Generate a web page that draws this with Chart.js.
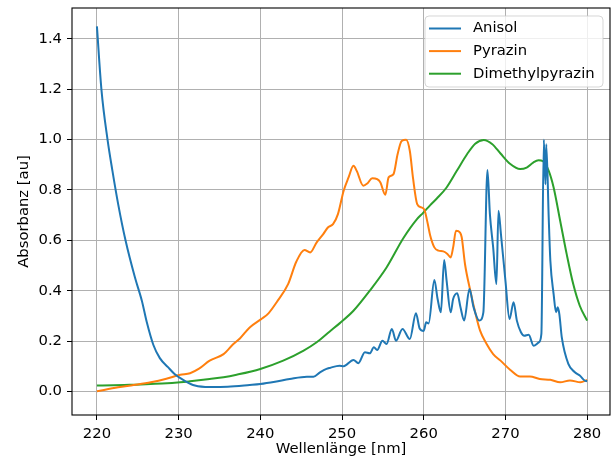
<!DOCTYPE html>
<html>
<head>
<meta charset="utf-8">
<script src="https://cdn.jsdelivr.net/npm/chart.js@4/dist/chart.umd.min.js"></script>
<style>
html,body{margin:0;padding:0;background:#fff;}
#wrap{position:relative;width:612px;height:461px;}
</style>
</head>
<body>
<div id="wrap"><canvas id="c" width="612" height="461"></canvas></div>
<script>
// ---- data ----
const seriesNames = ["Anisol", "Pyrazin", "Dimethylpyrazin"];
const seriesColors = ["#1f77b4", "#ff7f0e", "#2ca02c"];
const xTicks = [220, 230, 240, 250, 260, 270, 280];
const yTicks = [0.0, 0.2, 0.4, 0.6, 0.8, 1.0, 1.2, 1.4];

const anisolX = [220.0,220.55,221.3,221.9,222.6,223.5,224.65,225.5,226.1,226.9,227.7,228.7,229.5,230.75,232.0,233.8,236.0,238.7,240.0,241.8,243.6,245.7,246.5,247.3,248.1,248.5,249.7,250.2,251.4,252.0,252.8,253.4,253.9,254.3,254.95,255.45,256.1,256.6,257.4,258.3,259.05,259.5,260.0,260.3,260.6,261.3,261.7,262.1,262.5,262.8,263.3,263.6,264.1,264.5,264.95,265.6,266.1,266.8,267.3,267.8,268.1,268.5,268.9,269.15,269.45,270.0,270.5,271.0,271.4,271.9,272.3,272.85,273.45,274.1,274.4,274.7,274.9,275.0,275.3,275.5,275.9,276.2,276.4,276.6,276.9,277.7,278.5,279.1,279.7,280.0];
const anisolY = [1.45,1.20,1.00,0.876,0.744,0.60,0.453,0.36,0.275,0.185,0.132,0.096,0.069,0.042,0.023,0.017,0.018,0.025,0.029,0.038,0.049,0.058,0.058,0.075,0.089,0.093,0.102,0.10,0.125,0.112,0.155,0.151,0.175,0.164,0.201,0.188,0.248,0.201,0.248,0.208,0.31,0.25,0.24,0.274,0.27,0.442,0.367,0.314,0.522,0.44,0.314,0.367,0.39,0.334,0.281,0.407,0.334,0.281,0.314,0.879,0.704,0.572,0.426,0.717,0.625,0.44,0.287,0.354,0.281,0.235,0.221,0.225,0.181,0.195,0.228,1.0,0.823,0.982,0.69,0.519,0.386,0.314,0.334,0.307,0.214,0.109,0.076,0.063,0.043,0.04];

const pyrazinX = [220.0,222.6,224.5,226.6,228.5,230.2,231.4,232.5,233.8,235.5,236.7,237.5,238.7,240.1,241.0,242.0,243.4,244.4,245.4,246.1,246.9,247.7,248.3,248.9,249.5,250.2,250.8,251.4,251.8,252.6,253.1,253.7,254.3,254.7,255.3,255.7,256.3,256.8,257.3,257.85,258.3,258.7,259.2,259.7,260.1,260.5,260.8,261.3,261.8,262.4,262.9,263.3,263.6,263.95,264.45,264.65,265.05,265.7,266.3,266.9,267.7,268.5,269.4,270.6,271.8,273.0,274.2,275.5,276.7,277.9,279.2,280.0];
const pyrazinY = [0.0,0.016,0.025,0.036,0.05,0.066,0.072,0.09,0.122,0.148,0.188,0.21,0.254,0.287,0.31,0.354,0.426,0.515,0.562,0.552,0.592,0.625,0.652,0.664,0.704,0.797,0.85,0.896,0.876,0.817,0.826,0.847,0.843,0.83,0.781,0.85,0.863,0.942,0.995,1.0,0.955,0.845,0.744,0.731,0.72,0.665,0.618,0.572,0.559,0.556,0.546,0.532,0.572,0.638,0.631,0.612,0.506,0.40,0.314,0.241,0.188,0.148,0.122,0.085,0.059,0.059,0.049,0.046,0.036,0.043,0.036,0.045];

const dimethylX = [220.0,222.0,224.0,226.0,228.0,230.2,231.4,233.8,235.5,237.1,240.0,242.8,245.3,246.9,248.5,249.7,251.4,253.4,255.45,257.5,259.2,259.9,260.8,261.6,262.8,264.05,265.3,266.3,267.35,268.4,269.4,270.6,271.8,272.6,273.4,274.05,274.6,275.3,275.9,276.7,277.5,278.3,279.1,280.0];
const dimethylY = [0.023,0.024,0.026,0.028,0.031,0.036,0.04,0.049,0.056,0.066,0.089,0.122,0.162,0.195,0.238,0.27,0.32,0.40,0.492,0.608,0.685,0.708,0.74,0.766,0.81,0.876,0.942,0.984,0.999,0.982,0.945,0.903,0.883,0.889,0.909,0.918,0.914,0.876,0.81,0.678,0.545,0.426,0.34,0.281];

const xs = [anisolX, pyrazinX, dimethylX];
const ys = [anisolY, pyrazinY, dimethylY];

const FONT = "'DejaVu Sans', sans-serif";
const FS = 14.8;

function zeroPad(scale) {
  scale.paddingTop = 0; scale.paddingBottom = 0;
  scale.paddingLeft = 0; scale.paddingRight = 0;
}

const framePlugin = {
  id: 'frame',
  afterDatasetsDraw(chart) {
    const {ctx, chartArea: a} = chart;
    ctx.save();
    ctx.strokeStyle = '#000';
    ctx.lineWidth = 1.1;
    ctx.strokeRect(a.left, a.top, a.right - a.left, a.bottom - a.top);
    ctx.restore();
  }
};

const legendPlugin = {
  id: 'mplLegend',
  afterDraw(chart) {
    const ctx = chart.ctx;
    const bx = 425, by = 16, bw = 178, bh = 71, r = 4;
    ctx.save();
    ctx.beginPath();
    ctx.moveTo(bx + r, by);
    ctx.arcTo(bx + bw, by, bx + bw, by + bh, r);
    ctx.arcTo(bx + bw, by + bh, bx, by + bh, r);
    ctx.arcTo(bx, by + bh, bx, by, r);
    ctx.arcTo(bx, by, bx + bw, by, r);
    ctx.closePath();
    ctx.fillStyle = 'rgba(255,255,255,0.8)';
    ctx.fill();
    ctx.strokeStyle = 'rgba(204,204,204,0.8)';
    ctx.lineWidth = 1;
    ctx.stroke();
    ctx.font = FS + 'px ' + FONT;
    ctx.textBaseline = 'middle';
    ctx.fillStyle = '#000';
    chart.data.datasets.forEach((ds, i) => {
      const yy = 28.5 + i * 22.6;
      ctx.strokeStyle = ds.borderColor;
      ctx.lineWidth = 2;
      ctx.beginPath();
      ctx.moveTo(429, yy);
      ctx.lineTo(461, yy);
      ctx.stroke();
      ctx.fillText(ds.label, 473, yy);
    });
    ctx.restore();
  }
};

new Chart(document.getElementById('c'), {
  type: 'scatter',
  data: {
    datasets: seriesNames.map((name, i) => ({
      label: name,
      data: xs[i].map((x, j) => ({x: x, y: ys[i][j]})),
      showLine: true,
      borderColor: seriesColors[i],
      backgroundColor: seriesColors[i],
      borderWidth: 2,
      pointRadius: 0,
      cubicInterpolationMode: 'monotone',
      fill: false
    }))
  },
  options: {
    responsive: false,
    animation: false,
    devicePixelRatio: 1,
    layout: {padding: {left: 0, right: 2, top: 8, bottom: 0}},
    plugins: {legend: {display: false}, tooltip: {enabled: false}},
    scales: {
      x: {
        type: 'linear',
        min: 216.95,
        max: 282.8,
        afterBuildTicks(scale) { scale.ticks = xTicks.map(v => ({value: v})); },
        afterFit(scale) { scale.height = 46; zeroPad(scale); },
        ticks: {
          font: {family: FONT, size: FS},
          color: '#000',
          padding: 5,
          maxRotation: 0,
          callback: v => String(v)
        },
        grid: {color: '#b0b0b0', lineWidth: 1, tickColor: '#000', tickLength: 5, tickWidth: 1},
        border: {display: false},
        title: {display: true, text: 'Wellenlänge [nm]', font: {family: FONT, size: FS}, color: '#000', padding: {top: 3, bottom: 3}}
      },
      y: {
        type: 'linear',
        min: -0.094,
        max: 1.523,
        afterBuildTicks(scale) { scale.ticks = yTicks.map(v => ({value: v})); },
        afterFit(scale) { scale.width = 72; zeroPad(scale); },
        ticks: {
          font: {family: FONT, size: FS},
          color: '#000',
          padding: 5,
          callback: v => Number(v).toFixed(1)
        },
        grid: {color: '#b0b0b0', lineWidth: 1, tickColor: '#000', tickLength: 5, tickWidth: 1},
        border: {display: false},
        title: {display: true, text: 'Absorbanz [au]', font: {family: FONT, size: FS}, color: '#000', padding: {top: 15, bottom: 15}}
      }
    }
  },
  plugins: [framePlugin, legendPlugin]
});
</script>
</body>
</html>
